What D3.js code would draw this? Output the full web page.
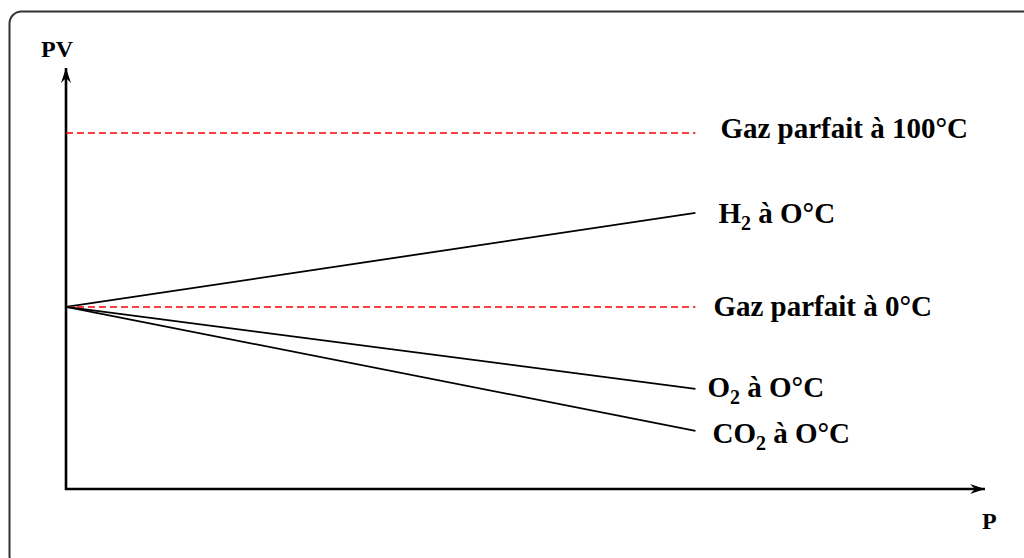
<!DOCTYPE html>
<html>
<head>
<meta charset="utf-8">
<script src="https://cdn.jsdelivr.net/npm/d3@7"></script>
<style>
  html, body { margin: 0; padding: 0; background: #fff; }
  svg { display: block; }
  text { font-family: "Liberation Serif", "Times New Roman", serif; font-weight: bold; fill: #000; }
</style>
</head>
<body>
<svg id="chart" width="1024" height="558"></svg>
<script>
// Pressure values (arbitrary units) at the start and end of each isotherm
const pressure = [0, 1];

// PV product (L·atm) for each curve, at the pressures above
const pvIdeal100 = [30.6, 30.6];
const pvH2 = [22.4, 26.83];
const pvIdeal0 = [22.4, 22.4];
const pvO2 = [22.4, 18.54];
const pvCO2 = [22.4, 16.56];

// Curve labels: main text, optional subscript, remaining text
const labelMain = ["Gaz parfait à 100°C", "H", "Gaz parfait à 0°C", "O", "CO"];
const labelSub = ["", "2", "", "2", "2"];
const labelRest = ["", " à O°C", "", " à O°C", " à O°C"];

// Axis titles
const xTitle = "P";
const yTitle = "PV";

const series = [
  { pv: pvIdeal100, dashed: true },
  { pv: pvH2, dashed: false },
  { pv: pvIdeal0, dashed: true },
  { pv: pvO2, dashed: false },
  { pv: pvCO2, dashed: false }
];
// label placement relative to each curve's end point
const labelOffsets = [[25, 5], [23, 10], [18, 9], [12, 8], [17, 12]];

const svg = d3.select("#chart");

// rounded frame around the figure
svg.append("rect")
  .attr("x", 9.5).attr("y", 11.5)
  .attr("width", 1040).attr("height", 556)
  .attr("rx", 12).attr("ry", 12)
  .attr("fill", "none")
  .attr("stroke", "#333")
  .attr("stroke-width", 2);

const x = d3.scaleLinear().domain([0, 1.46]).range([66, 985]);
const y = d3.scaleLinear().domain([13.82, 33.66]).range([489, 68]);

// arrowhead marker for the axes
svg.append("defs").append("marker")
  .attr("id", "arrow")
  .attr("markerUnits", "userSpaceOnUse")
  .attr("viewBox", "-15 -6 16 12")
  .attr("refX", 0).attr("refY", 0)
  .attr("markerWidth", 16).attr("markerHeight", 12)
  .attr("orient", "auto")
  .append("path")
  .attr("d", "M0,0 L-15,-5 L-10,0 L-15,5 Z")
  .attr("fill", "#000");

// axes without ticks, domain line only
const xAxis = svg.append("g")
  .attr("transform", `translate(0,${y.range()[0]})`)
  .call(d3.axisBottom(x).tickValues([]).tickSizeOuter(0));
const yAxis = svg.append("g")
  .attr("transform", `translate(${x.range()[0]},0)`)
  .call(d3.axisLeft(y).tickValues([]).tickSizeOuter(0));

// y axis drawn upward so the arrow points up
yAxis.select(".domain")
  .attr("d", `M0,${y.range()[0] + 1}V${y.range()[1]}`);
xAxis.select(".domain")
  .attr("d", `M${x.range()[0] - 1},0H${x.range()[1]}`);

[xAxis, yAxis].forEach(g => g.select(".domain")
  .attr("stroke", "#000")
  .attr("stroke-width", 2.6)
  .attr("marker-end", "url(#arrow)"));

// isotherms
const line = d3.line()
  .x((d, i) => x(pressure[i]))
  .y(d => y(d));

svg.append("g").selectAll("path")
  .data(series)
  .join("path")
  .attr("d", d => line(d.pv))
  .attr("fill", "none")
  .attr("stroke", d => d.dashed ? "#ff0000" : "#000")
  .attr("stroke-width", d => d.dashed ? 1.4 : 1.8)
  .attr("stroke-dasharray", d => d.dashed ? "7,4" : null);

// curve labels
const labels = svg.append("g").selectAll("text")
  .data(series)
  .join("text")
  .attr("x", (d, i) => x(pressure[1]) + labelOffsets[i][0])
  .attr("y", (d, i) => y(d.pv[1]) + labelOffsets[i][1])
  .style("font-size", "29px");

labels.each(function(d, i) {
  const t = d3.select(this);
  t.append("tspan").text(labelMain[i]);
  if (labelSub[i]) {
    t.append("tspan").attr("dy", 7).style("font-size", "20px").text(labelSub[i]);
    t.append("tspan").attr("dy", -7).text(labelRest[i]);
  }
});

// axis titles
svg.append("text")
  .attr("x", 41).attr("y", 57)
  .style("font-size", "24px")
  .text(yTitle);
svg.append("text")
  .attr("x", 982).attr("y", 529)
  .style("font-size", "24px")
  .text(xTitle);
</script>
</body>
</html>
